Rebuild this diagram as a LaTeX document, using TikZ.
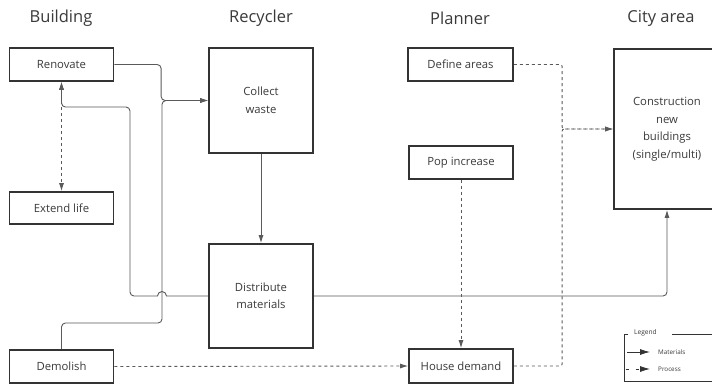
\documentclass[tikz,border=0pt]{standalone}
\usepackage{fontspec}
\setmainfont{Open Sans}
\usetikzlibrary{arrows.meta}
\definecolor{txt}{HTML}{3A3A3A}
\definecolor{bord}{HTML}{333333}
\definecolor{conn}{HTML}{5A5A5A}
\tikzset{
  box/.style={draw=bord, line width=1.7pt, fill=white, inner sep=0pt, text=txt, align=center,
    font=\fontsize{11.3}{17.5}\selectfont},
  head/.style={text=txt, font=\fontsize{16.5}{20}\selectfont, inner sep=0pt},
  mat/.style={draw=conn, line width=0.9pt, rounded corners=4pt, -{Latex[length=8pt,width=5pt]}},
  proc/.style={draw=conn, line width=0.9pt, rounded corners=2pt, dash pattern=on 3pt off 3pt, -{Latex[length=8pt,width=5pt]}},
  legtxt/.style={text=txt, font=\fontsize{6.3}{8}\selectfont, inner sep=0pt, anchor=west}
}
\begin{document}
\begin{tikzpicture}[x=1pt,y=-1pt]
\useasboundingbox (0,0) rectangle (712,384);
\fill[white] (0,0) rectangle (712,384);
% headers
\node[head] (hb) at (61,18) {Building};
\node[head] (hr) at (261,18) {Recycler};
\node[head] (hp) at (460,18) {Planner};
\node[head] (hc) at (661,18) {City area};
% boxes
\node[box, minimum width=104pt, minimum height=33pt] (ren) at (61.5,64.5) {Renovate};
\node[box, minimum width=104pt, minimum height=32pt] (ext) at (61.5,208) {Extend life};
\node[box, minimum width=104pt, minimum height=33pt] (dem) at (61.5,366.5) {Demolish};
\node[box, minimum width=104pt, minimum height=105pt] (col) at (261,100.5) {Collect\\waste};
\node[box, minimum width=104pt, minimum height=104pt] (dis) at (261,296) {Distribute\\materials};
\node[box, minimum width=105pt, minimum height=33pt] (def) at (460.5,64.5) {Define areas};
\node[box, minimum width=104pt, minimum height=33pt] (pop) at (461,162.5) {Pop increase};
\node[box, minimum width=104pt, minimum height=34pt] (hou) at (461,366) {House demand};
\node[box, minimum width=106pt, minimum height=160pt] (city) at (667,129) {Construction\\new\\buildings\\(single/multi)};
% process connectors
\draw[proc, {Latex[length=8pt,width=5pt]}-{Latex[length=8pt,width=5pt]}] (ren.south) -- (ext.north);
\draw[proc] (pop.south) -- (hou.north);
\draw[proc] (dem.east) -- (hou.west);
\path (city.west) ++(-51,0) coordinate (k);
\draw[proc] (def.east) -| (k) -- (city.west);
\draw[proc] (hou.east) -| (k) -- (city.west);
% material connectors
\path (col.west) ++(-47,0) coordinate (j);
\draw[mat] (ren.east) -| (j) -- (col.west);
\draw[mat] (dem.north) |- (162,323) |- (col.west);
\draw[mat] (col.south) -- (dis.north);
\draw[mat] (dis.east) -| (city.south);
\draw[draw=conn, line width=0.9pt, -{Latex[length=8pt,width=5pt]}] (dis.west) -- (166.5,296) arc (0:-180:4.5) [rounded corners=4pt] -- (130,296) -- (130,107) -| (ren.south);
% legend
\draw[draw=bord, line width=0.8pt] (628,334) -- (624,334) -- (624,381) -- (715,381);
\draw[draw=bord, line width=0.8pt] (672,334) -- (715,334);
\node[legtxt, font=\fontsize{6.6}{8}\selectfont] (lg) at (634,333) {Legend};
\coordinate (la1) at (627,352);
\coordinate (la2) at (650,352);
\draw[draw=bord, line width=0.8pt, -{Latex[length=10pt,width=6pt]}] (la1) -- (la2);
\node[legtxt] (lm) at (658,352) {Materials};
\coordinate (lb1) at (626,369);
\coordinate (lb2) at (650,369);
\draw[draw=bord, line width=0.8pt, dash pattern=on 3pt off 7pt, -{Latex[length=10pt,width=6pt]}] (lb1) -- (lb2);
\node[legtxt] (lp) at (658,369) {Process};
\end{tikzpicture}
\end{document}
